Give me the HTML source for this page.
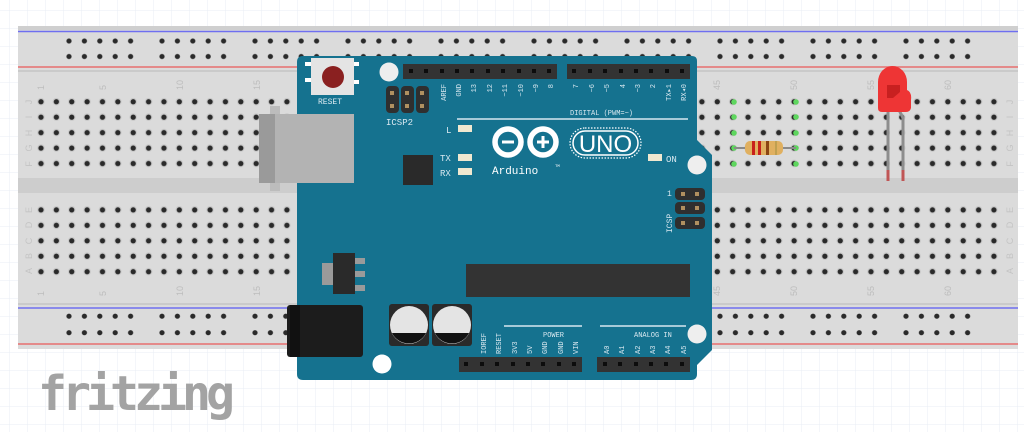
<!DOCTYPE html>
<html><head><meta charset="utf-8"><style>
html,body{margin:0;padding:0;background:#fff;}
svg{display:block;}
</style></head><body>
<svg width="1024" height="432" viewBox="0 0 1024 432" xmlns="http://www.w3.org/2000/svg" font-family="Liberation Mono, monospace">
<defs>
<pattern id="grid" width="18" height="18" patternUnits="userSpaceOnUse" x="9" y="10">
<path d="M0 0H18M0 0V18" stroke="#e9eef4" stroke-width="1" fill="none"/>
</pattern>
<pattern id="mh" width="15.37" height="15.45" patternUnits="userSpaceOnUse" x="33.3" y="94">
<circle cx="7.7" cy="7.7" r="3.8" fill="#c8c8c8"/><circle cx="7.7" cy="7.7" r="2.6" fill="#2a2a2a"/>
</pattern>
<pattern id="rh" width="93" height="15.5" patternUnits="userSpaceOnUse" x="61.3" y="33.3">
<g fill="#2a2a2a">
<circle cx="7.7" cy="7.7" r="2.6"/><circle cx="23.1" cy="7.7" r="2.6"/><circle cx="38.5" cy="7.7" r="2.6"/><circle cx="53.9" cy="7.7" r="2.6"/><circle cx="69.3" cy="7.7" r="2.6"/>
</g></pattern>
<pattern id="rh2" width="93" height="16.5" patternUnits="userSpaceOnUse" x="61.3" y="308.5">
<g fill="#2a2a2a">
<circle cx="7.7" cy="7.7" r="2.6"/><circle cx="23.1" cy="7.7" r="2.6"/><circle cx="38.5" cy="7.7" r="2.6"/><circle cx="53.9" cy="7.7" r="2.6"/><circle cx="69.3" cy="7.7" r="2.6"/>
</g></pattern>
</defs>
<rect width="1024" height="432" fill="url(#grid)"/>
<!-- breadboard -->
<rect x="18" y="26" width="1000" height="323" fill="#dbdbdb"/>
<rect x="18" y="26" width="1000" height="4" fill="#cfcfcf"/>
<line x1="18" y1="31.5" x2="1018" y2="31.5" stroke="#6f6ff0" stroke-width="1.5"/>
<line x1="18" y1="67" x2="1018" y2="67" stroke="#e87070" stroke-width="1.5"/>
<rect x="18" y="70" width="1000" height="2" fill="#cacaca"/>
<rect x="18" y="178" width="1000" height="15" fill="#cdcdcd"/>
<rect x="18" y="303" width="1000" height="2" fill="#cacaca"/>
<line x1="18" y1="308" x2="1018" y2="308" stroke="#6f6ff0" stroke-width="1.5"/>
<line x1="18" y1="344" x2="1018" y2="344" stroke="#e87070" stroke-width="1.5"/>
<rect x="61" y="33" width="910" height="31" fill="url(#rh)"/>
<rect x="61" y="308.5" width="910" height="33" fill="url(#rh2)"/>
<rect x="33" y="94" width="968" height="77" fill="url(#mh)"/>
<rect x="33" y="202.5" width="968" height="77" fill="url(#mh)"/>
<g fill="#bdbdbd" font-size="9" font-family="Liberation Sans, sans-serif">
<g transform="translate(44,90) rotate(-90)"><text>1</text></g>
<g transform="translate(106,90) rotate(-90)"><text>5</text></g>
<g transform="translate(183,90) rotate(-90)"><text>10</text></g>
<g transform="translate(260,90) rotate(-90)"><text>15</text></g>
<g transform="translate(720,90) rotate(-90)"><text>45</text></g>
<g transform="translate(797,90) rotate(-90)"><text>50</text></g>
<g transform="translate(874,90) rotate(-90)"><text>55</text></g>
<g transform="translate(951,90) rotate(-90)"><text>60</text></g>
<g transform="translate(44,296) rotate(-90)"><text>1</text></g>
<g transform="translate(106,296) rotate(-90)"><text>5</text></g>
<g transform="translate(183,296) rotate(-90)"><text>10</text></g>
<g transform="translate(260,296) rotate(-90)"><text>15</text></g>
<g transform="translate(720,296) rotate(-90)"><text>45</text></g>
<g transform="translate(797,296) rotate(-90)"><text>50</text></g>
<g transform="translate(874,296) rotate(-90)"><text>55</text></g>
<g transform="translate(951,296) rotate(-90)"><text>60</text></g>
</g>
<g fill="#c4c4c4" font-size="9" font-family="Liberation Sans, sans-serif" text-anchor="middle">
<g transform="translate(29,102) rotate(-90)"><text y="3">J</text></g>
<g transform="translate(29,117) rotate(-90)"><text y="3">I</text></g>
<g transform="translate(29,133) rotate(-90)"><text y="3">H</text></g>
<g transform="translate(29,148) rotate(-90)"><text y="3">G</text></g>
<g transform="translate(29,164) rotate(-90)"><text y="3">F</text></g>
<g transform="translate(29,210) rotate(-90)"><text y="3">E</text></g>
<g transform="translate(29,225) rotate(-90)"><text y="3">D</text></g>
<g transform="translate(29,241) rotate(-90)"><text y="3">C</text></g>
<g transform="translate(29,256) rotate(-90)"><text y="3">B</text></g>
<g transform="translate(29,271) rotate(-90)"><text y="3">A</text></g>
<g transform="translate(1010,102) rotate(-90)"><text y="3">J</text></g>
<g transform="translate(1010,117) rotate(-90)"><text y="3">I</text></g>
<g transform="translate(1010,133) rotate(-90)"><text y="3">H</text></g>
<g transform="translate(1010,148) rotate(-90)"><text y="3">G</text></g>
<g transform="translate(1010,164) rotate(-90)"><text y="3">F</text></g>
<g transform="translate(1010,210) rotate(-90)"><text y="3">E</text></g>
<g transform="translate(1010,225) rotate(-90)"><text y="3">D</text></g>
<g transform="translate(1010,241) rotate(-90)"><text y="3">C</text></g>
<g transform="translate(1010,256) rotate(-90)"><text y="3">B</text></g>
<g transform="translate(1010,271) rotate(-90)"><text y="3">A</text></g>
</g>
<!-- green holes -->
<g fill="#5ed65e">
<circle cx="734" cy="102" r="2.8"/><circle cx="734" cy="117" r="2.8"/><circle cx="734" cy="133" r="2.8"/><circle cx="734" cy="148" r="2.8"/><circle cx="734" cy="164" r="2.8"/>
<circle cx="796" cy="102" r="2.8"/><circle cx="796" cy="117" r="2.8"/><circle cx="796" cy="133" r="2.8"/><circle cx="796" cy="148" r="2.8"/><circle cx="796" cy="164" r="2.8"/>
</g>
<!-- resistor -->
<line x1="734" y1="148" x2="796" y2="148" stroke="#8a8a8a" stroke-width="2"/>
<rect x="745" y="141" width="38" height="14" rx="5" fill="#e0b060"/>
<rect x="752" y="141" width="3" height="14" fill="#c8201c"/><rect x="758" y="141" width="3" height="14" fill="#c8201c"/><rect x="766" y="141" width="3" height="14" fill="#8b4513"/><rect x="775" y="141" width="2" height="14" fill="#c0a050"/>
<!-- LED -->
<line x1="888" y1="110" x2="888" y2="180" stroke="#8d8d8d" stroke-width="3"/>
<polyline points="899,110 903,118 903,180" stroke="#8d8d8d" stroke-width="3" fill="none"/>
<line x1="888" y1="170" x2="888" y2="181" stroke="#c05555" stroke-width="3"/>
<line x1="903" y1="170" x2="903" y2="181" stroke="#c05555" stroke-width="3"/>
<path d="M878 108 V82 A14.5 16 0 0 1 907 82 V90 Q912 92 911 100 V108 Q910 112 906 112 H882 Q878 112 878 108 Z" fill="#ee3535"/>
<polygon points="887,85 900,85 900,92 893,98 887,98" fill="#c82020"/>
<!-- Arduino -->
<path d="M303 56 H692 Q697 56 697 61 V140 L712 155 V350 L697 365 V374 Q697 380 691 380 H303 Q297 380 297 374 V62 Q297 56 303 56 Z" fill="#15728f"/>
<!-- USB -->
<rect x="270" y="106" width="10" height="8" fill="#bcbcbc"/><rect x="270" y="183" width="10" height="8" fill="#bcbcbc"/>
<rect x="259" y="114" width="95" height="69" fill="#b3b3b3"/>
<rect x="259" y="114" width="16" height="69" fill="#9a9a9a"/>
<!-- reset -->
<rect x="305" y="62" width="6" height="4" fill="#fff"/><rect x="305" y="78" width="6" height="4" fill="#fff"/><rect x="353" y="62" width="6" height="4" fill="#fff"/><rect x="353" y="80" width="6" height="4" fill="#fff"/>
<rect x="311" y="58" width="43" height="37" fill="#e4e4e4"/>
<circle cx="333" cy="77" r="11" fill="#8a2020"/>
<text x="318" y="104" font-size="8" fill="#d8e8f0">RESET</text>
<circle cx="389" cy="72" r="9.5" fill="#eee"/>
<circle cx="697" cy="165" r="9.5" fill="#eee"/>
<circle cx="697" cy="334" r="9.5" fill="#eee"/>
<circle cx="382" cy="364" r="9.5" fill="#fff"/>
<!-- ICSP2 -->
<g fill="#2f2f2f"><rect x="386" y="86" width="13" height="27" rx="4"/><rect x="401" y="86" width="13" height="27" rx="4"/><rect x="416" y="86" width="13" height="27" rx="4"/></g>
<g fill="#b09060"><rect x="390" y="91" width="4" height="4"/><rect x="405" y="91" width="4" height="4"/><rect x="420" y="91" width="4" height="4"/><rect x="390" y="104" width="4" height="4"/><rect x="405" y="104" width="4" height="4"/><rect x="420" y="104" width="4" height="4"/></g>
<text x="386" y="125" font-size="9" fill="#d8e8f0">ICSP2</text>
<!-- headers -->
<rect x="403" y="64" width="154" height="15" fill="#333"/>
<rect x="567" y="64" width="123" height="15" fill="#333"/>
<g fill="#0c0c0c">
<rect x="409" y="69" width="4" height="4"/><rect x="424" y="69" width="4" height="4"/><rect x="440" y="69" width="4" height="4"/><rect x="455" y="69" width="4" height="4"/><rect x="470" y="69" width="4" height="4"/><rect x="486" y="69" width="4" height="4"/><rect x="501" y="69" width="4" height="4"/><rect x="517" y="69" width="4" height="4"/><rect x="532" y="69" width="4" height="4"/><rect x="547" y="69" width="4" height="4"/>
<rect x="572" y="69" width="4" height="4"/><rect x="588" y="69" width="4" height="4"/><rect x="603" y="69" width="4" height="4"/><rect x="619" y="69" width="4" height="4"/><rect x="634" y="69" width="4" height="4"/><rect x="649" y="69" width="4" height="4"/><rect x="665" y="69" width="4" height="4"/><rect x="680" y="69" width="4" height="4"/>
</g>
<g fill="#d8e8f0" font-size="7">
<g transform="translate(446,84) rotate(-90)"><text text-anchor="end">AREF</text></g>
<g transform="translate(461,84) rotate(-90)"><text text-anchor="end">GND</text></g>
<g transform="translate(476,84) rotate(-90)"><text text-anchor="end">13</text></g>
<g transform="translate(492,84) rotate(-90)"><text text-anchor="end">12</text></g>
<g transform="translate(507,84) rotate(-90)"><text text-anchor="end">~11</text></g>
<g transform="translate(523,84) rotate(-90)"><text text-anchor="end">~10</text></g>
<g transform="translate(538,84) rotate(-90)"><text text-anchor="end">~9</text></g>
<g transform="translate(553,84) rotate(-90)"><text text-anchor="end">8</text></g>
<g transform="translate(578,84) rotate(-90)"><text text-anchor="end">7</text></g>
<g transform="translate(594,84) rotate(-90)"><text text-anchor="end">~6</text></g>
<g transform="translate(609,84) rotate(-90)"><text text-anchor="end">~5</text></g>
<g transform="translate(625,84) rotate(-90)"><text text-anchor="end">4</text></g>
<g transform="translate(640,84) rotate(-90)"><text text-anchor="end">~3</text></g>
<g transform="translate(655,84) rotate(-90)"><text text-anchor="end">2</text></g>
<g transform="translate(671,84) rotate(-90)"><text text-anchor="end">TX▸1</text></g>
<g transform="translate(686,84) rotate(-90)"><text text-anchor="end">RX◂0</text></g>
<text x="570" y="115">DIGITAL (PWM=~)</text>
</g>
<line x1="457" y1="119" x2="688" y2="119" stroke="#d8e8f0" stroke-width="1.5"/>
<!-- LEDs -->
<g fill="#f0e8d0"><rect x="458" y="125" width="14" height="7"/><rect x="458" y="154" width="14" height="7"/><rect x="458" y="168" width="14" height="7"/><rect x="648" y="154" width="14" height="7"/></g>
<g fill="#d8e8f0" font-size="9"><text x="446" y="133">L</text><text x="440" y="161">TX</text><text x="440" y="176">RX</text><text x="666" y="162">ON</text></g>
<rect x="403" y="155" width="30" height="30" fill="#2a2a2a"/>
<!-- logo -->
<circle cx="508" cy="142" r="13" fill="none" stroke="#fff" stroke-width="5.5"/>
<circle cx="543" cy="142" r="13" fill="none" stroke="#fff" stroke-width="5.5"/>
<rect x="502" y="140.5" width="12" height="3" fill="#fff"/>
<rect x="537" y="140.5" width="12" height="3" fill="#fff"/><rect x="541.5" y="136" width="3" height="12" fill="#fff"/>
<rect x="570" y="128" width="71" height="30" rx="15" fill="none" stroke="#fff" stroke-width="1.2" stroke-dasharray="1.5 1.5"/>
<rect x="573" y="131" width="65" height="24" rx="12" fill="none" stroke="#fff" stroke-width="1.5"/>
<text x="605.5" y="152" font-size="24" fill="#fff" text-anchor="middle" font-family="Liberation Sans, sans-serif">UNO</text>
<text x="492" y="174" font-size="11" fill="#fff">Arduino</text><text x="555" y="167" font-size="4" fill="#fff">TM</text>
<!-- ICSP -->
<g fill="#2f2f2f"><rect x="675" y="188" width="30" height="12" rx="4"/><rect x="675" y="202" width="30" height="12" rx="4"/><rect x="675" y="217" width="30" height="12" rx="4"/></g>
<g fill="#b09060"><rect x="681" y="192" width="4" height="4"/><rect x="695" y="192" width="4" height="4"/><rect x="681" y="206" width="4" height="4"/><rect x="695" y="206" width="4" height="4"/><rect x="681" y="221" width="4" height="4"/><rect x="695" y="221" width="4" height="4"/></g>
<g fill="#d8e8f0" font-size="8"><text x="667" y="196">1</text><g transform="translate(672,233) rotate(-90)"><text>ICSP</text></g></g>
<!-- main chip -->
<rect x="466" y="264" width="224" height="33" fill="#333"/>
<!-- regulator -->
<rect x="322" y="263" width="12" height="22" fill="#9a9a9a"/>
<g fill="#9a9a9a"><rect x="354" y="258" width="11" height="6"/><rect x="354" y="271" width="11" height="6"/><rect x="354" y="285" width="11" height="6"/></g>
<rect x="333" y="253" width="22" height="41" fill="#2a2a2a"/>
<!-- power jack -->
<rect x="287" y="305" width="76" height="52" rx="3" fill="#1c1c1c"/>
<rect x="290" y="305" width="10" height="52" fill="#111"/>
<!-- caps -->
<rect x="389" y="304" width="40" height="42" rx="3" fill="#2a2a2a"/>
<rect x="432" y="304" width="40" height="42" rx="3" fill="#2a2a2a"/>
<circle cx="409" cy="325" r="19" fill="#e4e4e4"/><path d="M392 333 A19 19 0 0 0 426 333 Z" fill="#111"/>
<circle cx="452" cy="325" r="19" fill="#e4e4e4"/><path d="M435 333 A19 19 0 0 0 469 333 Z" fill="#111"/>
<!-- bottom headers -->
<rect x="459" y="357" width="123" height="15" fill="#333"/>
<rect x="597" y="357" width="93" height="15" fill="#333"/>
<g fill="#0c0c0c">
<rect x="464" y="362" width="4" height="4"/><rect x="480" y="362" width="4" height="4"/><rect x="495" y="362" width="4" height="4"/><rect x="511" y="362" width="4" height="4"/><rect x="526" y="362" width="4" height="4"/><rect x="541" y="362" width="4" height="4"/><rect x="557" y="362" width="4" height="4"/><rect x="572" y="362" width="4" height="4"/>
<rect x="603" y="362" width="4" height="4"/><rect x="618" y="362" width="4" height="4"/><rect x="634" y="362" width="4" height="4"/><rect x="649" y="362" width="4" height="4"/><rect x="664" y="362" width="4" height="4"/><rect x="680" y="362" width="4" height="4"/>
</g>
<line x1="504" y1="326" x2="582" y2="326" stroke="#d8e8f0" stroke-width="1.5"/>
<line x1="600" y1="326" x2="686" y2="326" stroke="#d8e8f0" stroke-width="1.5"/>
<g fill="#d8e8f0" font-size="7">
<text x="543" y="337">POWER</text><text x="634" y="337">ANALOG IN</text>
<g transform="translate(486,354) rotate(-90)"><text>IOREF</text></g>
<g transform="translate(501,354) rotate(-90)"><text>RESET</text></g>
<g transform="translate(517,354) rotate(-90)"><text>3V3</text></g>
<g transform="translate(532,354) rotate(-90)"><text>5V</text></g>
<g transform="translate(547,354) rotate(-90)"><text>GND</text></g>
<g transform="translate(563,354) rotate(-90)"><text>GND</text></g>
<g transform="translate(578,354) rotate(-90)"><text>VIN</text></g>
<g transform="translate(609,354) rotate(-90)"><text>A0</text></g>
<g transform="translate(624,354) rotate(-90)"><text>A1</text></g>
<g transform="translate(640,354) rotate(-90)"><text>A2</text></g>
<g transform="translate(655,354) rotate(-90)"><text>A3</text></g>
<g transform="translate(670,354) rotate(-90)"><text>A4</text></g>
<g transform="translate(686,354) rotate(-90)"><text>A5</text></g>
</g>
<!-- fritzing -->
<text x="38" y="410" font-size="48" font-weight="bold" fill="#a3a3a3" font-family="DejaVu Sans Mono, monospace" letter-spacing="-5" textLength="192" lengthAdjust="spacingAndGlyphs">fritzing</text>
</svg>
</body></html>
